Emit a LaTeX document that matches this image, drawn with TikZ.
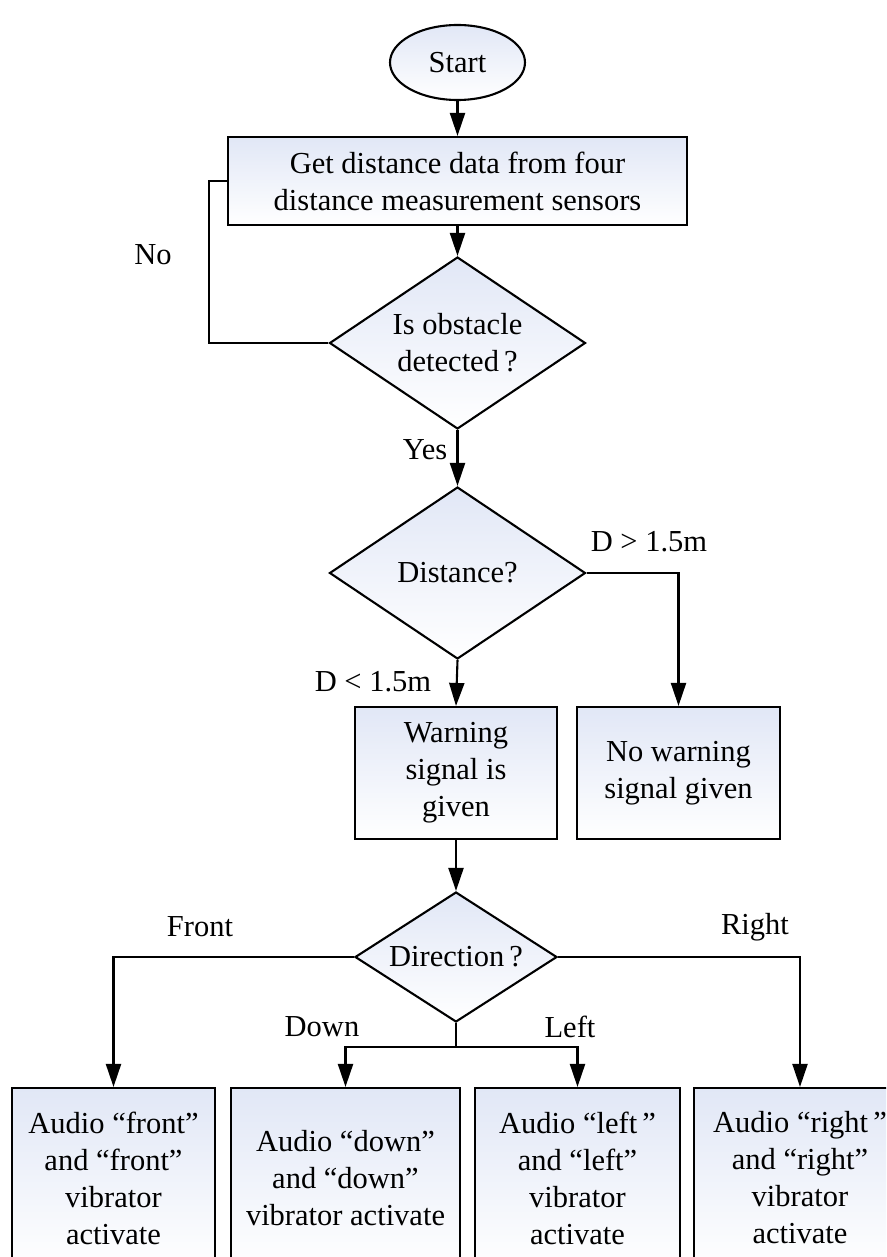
\documentclass[tikz,border=0pt]{standalone}
\usepackage{fontspec}
\setmainfont{Liberation Serif}
\usetikzlibrary{arrows.meta,shapes.geometric}
\definecolor{shadetop}{RGB}{225,231,246}
\begin{document}
\begin{tikzpicture}[x=1pt,y=-1pt,
  line width=2.1pt,
  >={Triangle[length=23pt,width=15pt]},
  font=\fontsize{30.5}{37}\selectfont,
  stepbox/.style={draw, rectangle, top color=shadetop, bottom color=white,
    align=center, inner sep=0pt},
  decision/.style={draw, diamond, top color=shadetop, bottom color=white,
    inner sep=0pt},
  terminal/.style={draw, ellipse, top color=shadetop, bottom color=white,
    inner sep=0pt, minimum width=135pt, minimum height=75pt},
  caption/.style={align=center, inner sep=0pt},
  lbl/.style={inner sep=0pt}]
\useasboundingbox (0,0) rectangle (886,1257);
\fill[white] (0,0) rectangle (886,1257);
\clip (0,0) rectangle (886,1257);

% terminal and process boxes
\node[terminal] (start) at (457.5,62.5) {Start};
\node[stepbox, minimum width=459pt, minimum height=88pt] (get) at (457.5,181)
  {Get distance data from four\\distance measurement sensors};

% decision: obstacle
\node[decision, minimum width=256pt, minimum height=172pt] (obst) at (457.5,343) {};
\node[caption] (obsttext) at (obst) {Is obstacle\\detected\,?};

% decision: distance
\node[decision, minimum width=256pt, minimum height=172pt] (dist) at (457.5,573) {};
\node[caption] (disttext) at (dist) {Distance?};

\node[stepbox, minimum width=202pt, minimum height=132pt] (warn) at (456,773)
  {Warning\\signal is\\given};
\node[stepbox, minimum width=203pt, minimum height=132pt] (nowarn) at (678.5,773)
  {No warning\\signal given};

% decision: direction
\node[decision, minimum width=202pt, minimum height=130pt] (dir) at (456,957) {};
\node[caption] (dirtext) at (dir) {Direction\,?};

% output boxes
\node[stepbox, minimum width=203pt, minimum height=180pt] (b1) at (113.5,1178)
  {Audio “front”\\and “front”\\vibrator\\activate};
\node[stepbox, minimum width=229pt, minimum height=180pt] (b2) at (345.5,1178)
  {Audio “down”\\and “down”\\vibrator activate};
\node[stepbox, minimum width=205pt, minimum height=180pt] (b3) at (577.5,1178)
  {Audio “left\,”\\and “left”\\vibrator\\activate};
\node[stepbox, minimum width=212pt, minimum height=180pt] (b4) at (800,1178)
  {Audio “right\,”\\and “right”\\vibrator\\activate};

% connectors
\coordinate (loopcorner) at (209,343);
\coordinate (split) at (456,1047);
\draw[->] (start.south) -- (get.north);
\draw[->] (get.south) -- (obst.north);
\draw (obst.west) -- (loopcorner) |- (get.west);
\draw[->] (obst.south) -- (dist.north);
\draw[->] (dist.south) -- (warn.north);
\draw[->] (dist.east) -| (nowarn.north);
\draw[->] (warn.south) -- (dir.north);
\draw[->] (dir.west) -| (b1.north);
\draw[->] (dir.east) -| (b4.north);
\draw (dir.south) -- (split);
\draw[->] (split) -| (b2.north);
\draw[->] (split) -| (b3.north);

% branch labels
\node[lbl] (lno) at (153,255) {No};
\node[lbl] (lyes) at (425,450) {Yes};
\node[lbl] (lfar) at (649,542) {D > 1.5m};
\node[lbl] (lnear) at (373,682) {D < 1.5m};
\node[lbl] (lfront) at (200,927) {Front};
\node[lbl] (lright) at (755,927) {Right};
\node[lbl] (ldown) at (322,1027) {Down};
\node[lbl] (lleft) at (570,1027) {Left};
\end{tikzpicture}
\end{document}
